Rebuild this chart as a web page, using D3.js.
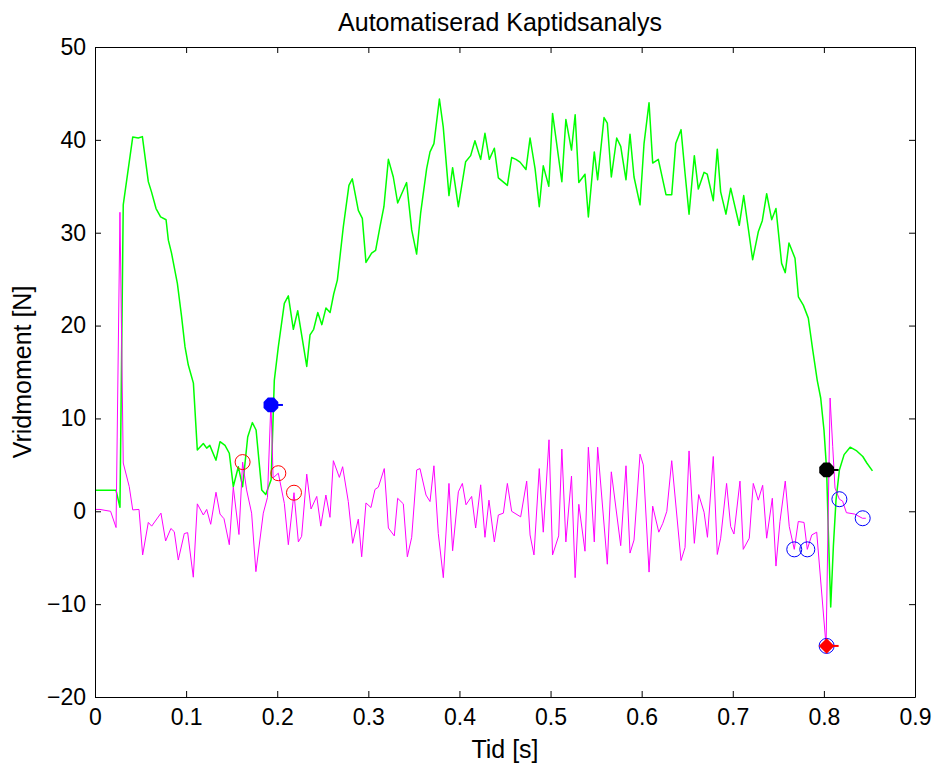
<!DOCTYPE html>
<html>
<head>
<meta charset="utf-8">
<script src="https://cdn.jsdelivr.net/npm/d3@7"></script>
<style>
  html, body { margin: 0; padding: 0; background: #ffffff; }
  svg { display: block; }
  text { font-family: "Liberation Sans", Arial, Helvetica, sans-serif; fill: #000; }
</style>
</head>
<body>
<svg id="chart" width="933" height="764"></svg>
<script>
// ---------------- data ----------------
const chartTitle = "Automatiserad Kaptidsanalys";
const xLabel = "Tid [s]";
const yLabel = "Vridmoment [N]";
const xTicks = [0, 0.1, 0.2, 0.3, 0.4, 0.5, 0.6, 0.7, 0.8, 0.9];
const yTicks = [-20, -10, 0, 10, 20, 30, 40, 50];

// green trace (torque)
const greenT = [0, 0.0231, 0.0274, 0.031, 0.0414, 0.0475, 0.052, 0.0585, 0.062, 0.067, 0.072, 0.078, 0.0805, 0.084, 0.0904, 0.095, 0.0988, 0.1024, 0.108, 0.1123, 0.1189, 0.1226, 0.126, 0.1328, 0.1372, 0.1427, 0.1474, 0.1518, 0.1573, 0.162, 0.1676, 0.1727, 0.1768, 0.183, 0.1874, 0.1933, 0.1968, 0.2012, 0.2078, 0.2122, 0.2177, 0.2225, 0.2324, 0.236, 0.2400, 0.2445, 0.2490, 0.2535, 0.2580, 0.2620, 0.266, 0.2725, 0.2787, 0.2824, 0.289, 0.2934, 0.2974, 0.3036, 0.308, 0.3128, 0.3171, 0.322, 0.3274, 0.3322, 0.342, 0.3476, 0.353, 0.3574, 0.364, 0.3677, 0.372, 0.378, 0.3822, 0.3885, 0.3925, 0.3988, 0.4068, 0.4123, 0.417, 0.4233, 0.428, 0.4328, 0.4383, 0.4427, 0.4526, 0.4573, 0.462, 0.4665, 0.473, 0.4775, 0.483, 0.4876, 0.492, 0.4981, 0.5022, 0.5124, 0.5168, 0.523, 0.527, 0.531, 0.5378, 0.5415, 0.548, 0.5517, 0.5587, 0.5623, 0.5667, 0.5726, 0.577, 0.5828, 0.5872, 0.5916, 0.5982, 0.6026, 0.6081, 0.6121, 0.6183, 0.6267, 0.633, 0.6374, 0.6432, 0.6476, 0.652, 0.6578, 0.6622, 0.6685, 0.672, 0.6786, 0.683, 0.6867, 0.6925, 0.6977, 0.7071, 0.712, 0.7218, 0.728, 0.7324, 0.7372, 0.7427, 0.7474, 0.7536, 0.7576, 0.7617, 0.7683, 0.772, 0.7774, 0.7829, 0.7877, 0.7927, 0.7965, 0.8001, 0.803, 0.8048, 0.8075, 0.8104, 0.8133, 0.817, 0.8222, 0.8288, 0.8361, 0.8427, 0.8471, 0.8533];
const greenV = [2.26, 2.26, 0.43, 33.0, 40.3, 40.2, 40.35, 35.5, 34.4, 32.6, 31.7, 31.4, 29.2, 27.8, 24.55, 21.0, 17.7, 15.75, 13.8, 6.6, 7.3, 6.8, 7.1, 5.5, 7.5, 7.1, 6.25, 2.65, 4.8, 2.65, 8.0, 9.55, 8.75, 2.3, 1.8, 3.4, 14.1, 17.7, 22.4, 23.2, 19.6, 21.6, 15.6, 19.0, 19.6, 21.4, 20.1, 21.9, 21.4, 23.4, 24.9, 30.6, 35.1, 35.8, 32.4, 31.55, 26.8, 27.8, 28.1, 30.65, 32.8, 37.9, 36.0, 33.2, 35.4, 30.3, 27.7, 32.1, 36.9, 38.7, 39.6, 44.4, 41.4, 34.0, 37.0, 32.8, 37.65, 38.3, 39.9, 37.9, 40.7, 37.9, 39.1, 35.9, 35.1, 38.1, 37.9, 37.6, 36.8, 40.2, 36.9, 32.8, 37.2, 35.0, 42.85, 35.5, 42.2, 38.9, 42.7, 35.4, 36.3, 31.7, 38.7, 35.7, 42.4, 41.8, 36.0, 40.2, 39.3, 35.7, 40.6, 36.0, 33.0, 39.6, 44.0, 37.5, 37.9, 34.1, 34.1, 39.6, 41.1, 36.4, 32.0, 38.3, 34.7, 36.5, 36.3, 33.45, 39.0, 34.4, 32.0, 34.8, 30.8, 34.0, 27.1, 30.1, 31.3, 34.2, 31.4, 32.6, 26.7, 25.7, 28.9, 27.25, 23.1, 22.2, 20.8, 17.4, 14.1, 12.2, 8.75, 4.45, -2.0, -10.3, -3.8, 1.2, 4.45, 6.1, 6.9, 6.5, 5.9, 5.2, 4.35];

// magenta trace
const magT = [0, 0.0055, 0.011, 0.0171, 0.0231, 0.0274, 0.031, 0.0376, 0.0414, 0.0483, 0.0523, 0.0585, 0.0622, 0.0724, 0.0775, 0.0833, 0.087, 0.0914, 0.098, 0.1017, 0.1079, 0.1123, 0.1189, 0.1226, 0.127, 0.1328, 0.1372, 0.1416, 0.1474, 0.1518, 0.158, 0.162, 0.1664, 0.1719, 0.1766, 0.1847, 0.1893, 0.1931, 0.1955, 0.2012, 0.2078, 0.2122, 0.2184, 0.2232, 0.2268, 0.2324, 0.2371, 0.2434, 0.2478, 0.2534, 0.2579, 0.2616, 0.2682, 0.2718, 0.278, 0.2828, 0.289, 0.2927, 0.2974, 0.3029, 0.3073, 0.311, 0.3175, 0.322, 0.3285, 0.3322, 0.3384, 0.3428, 0.3476, 0.3531, 0.3567, 0.3633, 0.3677, 0.372, 0.3768, 0.3823, 0.3885, 0.3925, 0.3988, 0.4032, 0.4072, 0.4134, 0.4178, 0.4233, 0.428, 0.4324, 0.4383, 0.4427, 0.4482, 0.4526, 0.4573, 0.4672, 0.4738, 0.4775, 0.4818, 0.4876, 0.492, 0.4983, 0.5022, 0.5089, 0.5124, 0.5168, 0.523, 0.527, 0.531, 0.5378, 0.5415, 0.548, 0.5517, 0.5623, 0.5667, 0.577, 0.5828, 0.5872, 0.5916, 0.5982, 0.6018, 0.6081, 0.6121, 0.6188, 0.6232, 0.6276, 0.633, 0.6432, 0.6476, 0.652, 0.6578, 0.6626, 0.6685, 0.6722, 0.6786, 0.683, 0.6867, 0.6932, 0.6977, 0.7013, 0.7079, 0.7115, 0.7181, 0.7225, 0.728, 0.7328, 0.7372, 0.7434, 0.7474, 0.7518, 0.7576, 0.762, 0.7675, 0.7719, 0.7782, 0.7818, 0.7867, 0.7921, 0.8024, 0.8068, 0.8097, 0.8122, 0.817, 0.8205, 0.8247, 0.8338, 0.8423, 0.846];
const magV = [0.2, 0.2, 0.1, 0.0, -1.75, 32.2, 5.2, 2.65, 0.15, 0.2, -4.7, -1.2, -1.6, -0.2, -3.2, -1.85, -2.2, -5.25, -2.4, -2.3, -7.1, 0.8, -0.4, 0.2, -1.4, 2.05, -0.3, -0.8, -3.6, 2.6, -2.5, 5.3, 2.3, -0.2, -6.5, -0.2, 1.5, 11.8, 3.6, 4.1, 0.85, -3.6, 2.0, -3.3, -2.7, 4.0, 0.25, 1.6, -1.6, 1.75, -0.65, 5.45, 3.65, 4.8, 1.05, -3.45, -0.85, -4.9, 0.9, 0.4, 2.35, 2.6, 4.6, -1.8, -2.65, 1.4, 0.8, -4.9, -2.8, 4.45, 4.6, 1.75, 1.05, 4.9, -2.4, -7.15, 3.0, -4.25, 2.1, 3.0, 0.7, 1.6, -1.8, 2.85, -2.8, 1.2, -3.3, -0.4, -0.2, 3.0, 0.0, -0.6, 3.25, -2.55, -4.7, 4.6, -2.25, 7.7, -4.7, -2.65, 6.7, -3.3, 3.8, -7.15, 0.75, -4.3, 6.9, -3.3, 6.9, -5.7, 4.25, -3.7, 4.9, -4.5, -3.1, 6.15, 5.0, -6.55, 0.55, -2.25, -1.3, 0.0, 5.45, -5.3, -3.9, 6.5, -3.45, 1.8, -0.1, -2.8, 5.9, -4.65, -2.9, 3.0, -1.65, -2.45, 3.25, -4.1, -2.9, 3.0, 1.2, 2.8, -2.9, 1.4, -5.9, -1.1, 3.25, -1.65, -4.1, -1.1, -1.2, -4.1, -2.55, -2.25, -14.5, 12.2, 6.95, 2.5, 1.3, 1.1, -0.15, -0.3, -0.75, -0.75];

// markers
const redCircleT = [0.162, 0.2012, 0.2184];
const redCircleV = [5.3, 4.1, 2.0];
const blueCircleT = [0.7675, 0.7818, 0.817, 0.8426, 0.803];
const blueCircleV = [-4.1, -4.1, 1.3, -0.75, -14.5];
const startMarkT = [0.1931];   // blue filled
const startMarkV = [11.45];
const endMarkT = [0.803];      // black filled
const endMarkV = [4.45];
const minMarkT = [0.803];      // red diamond
const minMarkV = [-14.5];

// ---------------- layout ----------------
const svg = d3.select("#chart");
const L = 95, R = 915, T = 47, B = 697;
const x = d3.scaleLinear().domain([0, 0.9]).range([L, R]);
const y = d3.scaleLinear().domain([-20, 50]).range([B, T]);
const TICKFONT = 23;
const LABELFONT = 25;

svg.append("rect").attr("x", L).attr("y", T).attr("width", R - L).attr("height", B - T)
  .attr("fill", "#fff").attr("stroke", "none");

const line = d3.line().x(d => x(d[0])).y(d => y(d[1]));
const greenData = greenT.map((t, i) => [t, greenV[i]]);
const magData = magT.map((t, i) => [t, magV[i]]);

const plot = svg.append("g");
plot.append("path").datum(greenData).attr("d", line)
  .attr("fill", "none").attr("stroke", "#00ff00").attr("stroke-width", 1.5).attr("stroke-linejoin", "round");
plot.append("path").datum(magData).attr("d", line)
  .attr("fill", "none").attr("stroke", "#ff00ff").attr("stroke-width", 1).attr("stroke-linejoin", "round");

function circles(ts, vs, color) {
  plot.append("g").selectAll("circle").data(ts.map((t, i) => [t, vs[i]])).join("circle")
    .attr("cx", d => x(d[0])).attr("cy", d => y(d[1])).attr("r", 7.5)
    .attr("fill", "none").attr("stroke", color).attr("stroke-width", 1);
}
circles(redCircleT, redCircleV, "#ff0000");
circles(blueCircleT, blueCircleV, "#0000ff");

function blob(ts, vs, color, shape) {
  const g = plot.append("g");
  const d = ts.map((t, i) => [t, vs[i]]);
  if (shape === "diamond") {
    g.selectAll("path.m").data(d).join("path")
      .attr("transform", p => `translate(${x(p[0])},${y(p[1])}) rotate(45)`)
      .attr("d", d3.symbol(d3.symbolSquare, 120)).attr("fill", color);
  } else {
    g.selectAll("path.m").data(d).join("path")
      .attr("transform", p => `translate(${x(p[0])},${y(p[1])}) rotate(22.5)`)
      .attr("d", () => {
        const pts = d3.range(8).map(k => [8 * Math.cos(k * Math.PI / 4), 8 * Math.sin(k * Math.PI / 4)]);
        return "M" + pts.map(q => q.join(",")).join("L") + "Z";
      })
      .attr("fill", color);
  }
  g.selectAll("line").data(d).join("line")
    .attr("x1", p => x(p[0])).attr("x2", p => x(p[0]) + 12)
    .attr("y1", p => y(p[1])).attr("y2", p => y(p[1]))
    .attr("stroke", color).attr("stroke-width", 2);
}
blob(startMarkT, startMarkV, "#0000ff", "oct");
blob(endMarkT, endMarkV, "#000000", "oct");
blob(minMarkT, minMarkV, "#ff0000", "diamond");

// axes
const fmtX = d => (d === 0 ? "0" : d3.format(".1f")(d));
const xAxisB = svg.append("g").attr("transform", `translate(0,${B})`)
  .call(d3.axisBottom(x).tickValues(xTicks).tickFormat(fmtX).tickSizeInner(-6).tickSizeOuter(0).tickPadding(12));
const xAxisT = svg.append("g").attr("transform", `translate(0,${T})`)
  .call(d3.axisTop(x).tickValues(xTicks).tickFormat("").tickSizeInner(-6).tickSizeOuter(0));
const yAxisL = svg.append("g").attr("transform", `translate(${L},0)`)
  .call(d3.axisLeft(y).tickValues(yTicks).tickFormat(d3.format("d")).tickSizeInner(-6).tickSizeOuter(0).tickPadding(9));
const yAxisR = svg.append("g").attr("transform", `translate(${R},0)`)
  .call(d3.axisRight(y).tickValues(yTicks).tickFormat("").tickSizeInner(-6).tickSizeOuter(0));

[xAxisB, xAxisT, yAxisL, yAxisR].forEach(a => {
  a.selectAll(".domain").attr("stroke", "#000").attr("stroke-width", 1);
  a.selectAll(".tick line").attr("stroke", "#000").attr("stroke-width", 1);
  a.selectAll("text").attr("font-size", TICKFONT).attr("font-family", "Liberation Sans, Arial, sans-serif").attr("fill", "#000");
});

// titles
svg.append("text").attr("x", 500).attr("y", 31).attr("text-anchor", "middle")
  .attr("font-size", LABELFONT).text(chartTitle);
svg.append("text").attr("x", 505).attr("y", 758).attr("text-anchor", "middle")
  .attr("font-size", LABELFONT).text(xLabel);
svg.append("text").attr("transform", `translate(31,${(T + B) / 2}) rotate(-90)`).attr("text-anchor", "middle")
  .attr("font-size", LABELFONT).text(yLabel);
</script>
</body>
</html>
